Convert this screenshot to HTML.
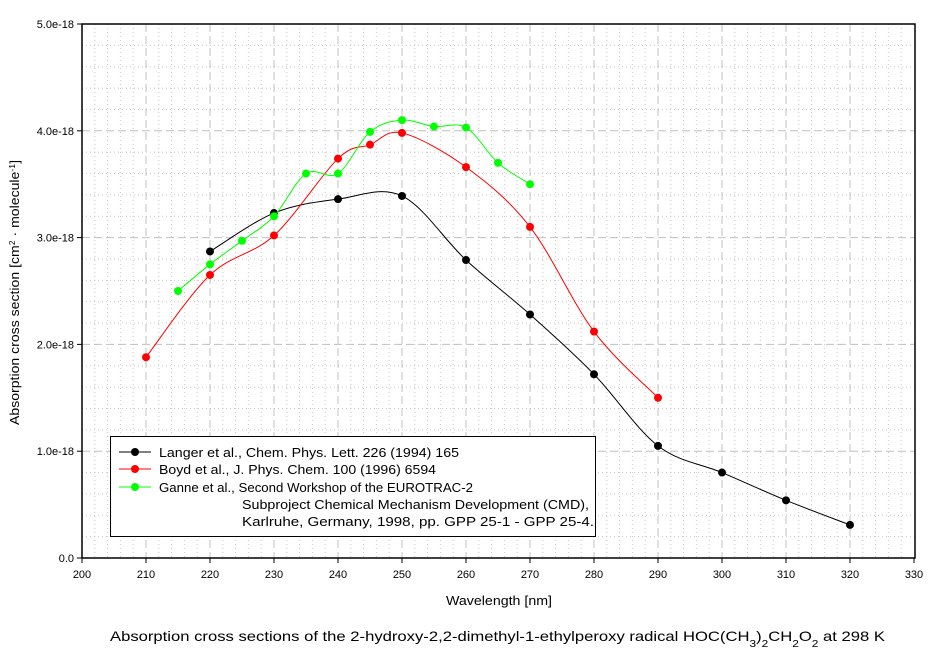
<!DOCTYPE html>
<html><head><meta charset="utf-8"><style>
html,body{margin:0;padding:0;background:#fff;}
svg{display:block;font-family:"Liberation Sans",Arial,sans-serif;}
</style></head><body>
<svg id="s" width="942" height="654" xmlns="http://www.w3.org/2000/svg">
<rect width="942" height="654" fill="#fff"/>
<g id="grid"></g>
<g id="series"></g>
<rect x="82" y="24" width="833" height="534" fill="none" stroke="#000" stroke-width="1.5"/>
<g id="ticks" font-size="11"></g>
<text x="446" y="605" font-size="13" textLength="106" lengthAdjust="spacingAndGlyphs">Wavelength [nm]</text>
<text transform="translate(19,425) rotate(-90)" font-size="13" textLength="265" lengthAdjust="spacingAndGlyphs">Absorption cross section [cm<tspan baseline-shift="super" font-size="8">2</tspan> · molecule<tspan baseline-shift="super" font-size="8">-1</tspan>]</text>
<text x="110" y="641" font-size="14" textLength="775" lengthAdjust="spacingAndGlyphs">Absorption cross sections of the 2-hydroxy-2,2-dimethyl-1-ethylperoxy radical HOC(CH<tspan baseline-shift="sub" font-size="10">3</tspan>)<tspan baseline-shift="sub" font-size="10">2</tspan>CH<tspan baseline-shift="sub" font-size="10">2</tspan>O<tspan baseline-shift="sub" font-size="10">2</tspan> at 298 K</text>
<g>
<rect x="110.5" y="436.5" width="485" height="100" fill="#fff" stroke="#000" stroke-width="1"/>
<line x1="119" y1="452" x2="151" y2="452" stroke="#000"/><circle cx="135" cy="452" r="4" fill="#000"/>
<line x1="119" y1="469" x2="151" y2="469" stroke="#f00"/><circle cx="135" cy="469" r="4" fill="#f00"/>
<line x1="119" y1="487" x2="151" y2="487" stroke="#0f0"/><circle cx="135" cy="487" r="4" fill="#0f0"/>
<g font-size="13" lengthAdjust="spacingAndGlyphs">
<text x="159" y="457" textLength="300" lengthAdjust="spacingAndGlyphs">Langer et al., Chem. Phys. Lett. 226 (1994) 165</text>
<text x="159" y="474" textLength="277" lengthAdjust="spacingAndGlyphs">Boyd et al., J. Phys. Chem. 100 (1996) 6594</text>
<text x="159" y="492" textLength="314" lengthAdjust="spacingAndGlyphs">Ganne et al., Second Workshop of the EUROTRAC-2</text>
<text x="242" y="509" textLength="347" lengthAdjust="spacingAndGlyphs">Subproject Chemical Mechanism Development (CMD),</text>
<text x="242" y="526" textLength="352" lengthAdjust="spacingAndGlyphs">Karlruhe, Germany, 1998, pp. GPP 25-1 - GPP 25-4.</text>
</g></g>
</svg>
<script>
const X=v=>82+(v-200)*6.4, Y=v=>558-v*106.8;
const ns="http://www.w3.org/2000/svg";
function el(p,t,a){const e=document.createElementNS(ns,t);for(const k in a)e.setAttribute(k,a[k]);p.appendChild(e);return e;}
const g=document.getElementById('grid'),tk=document.getElementById('ticks');
for(let w=202;w<330;w+=2){if(w%10==0)continue;el(g,'line',{x1:X(w),x2:X(w),y1:24,y2:558,stroke:'#c8c8c8','stroke-dasharray':'1,3'});}
for(let i=1;i<25;i++){if(i%5==0)continue;const y=Y(i*0.2);el(g,'line',{x1:82,x2:915,y1:y,y2:y,stroke:'#c8c8c8','stroke-dasharray':'1,3'});}
for(let w=210;w<330;w+=10){el(g,'line',{x1:X(w),x2:X(w),y1:24,y2:558,stroke:'#c0c0c0','stroke-dasharray':'8,4'});}
for(let i=1;i<5;i++){el(g,'line',{x1:82,x2:915,y1:Y(i),y2:Y(i),stroke:'#c0c0c0','stroke-dasharray':'8,4'});}
for(let w=200;w<=330;w+=10){el(tk,'line',{x1:X(w),x2:X(w),y1:558,y2:563,stroke:'#000'});el(tk,'text',{x:X(w),y:578,'text-anchor':'middle'}).textContent=w;}
for(let i=0;i<=5;i++){el(tk,'line',{x1:77,x2:82,y1:Y(i),y2:Y(i),stroke:'#000'});el(tk,'text',{x:74,y:Y(i)+4,'text-anchor':'end'}).textContent=i==0?'0.0':i+'.0e-18';}
const S=[['#000',[[220,2.87],[230,3.23],[240,3.36],[250,3.39],[260,2.79],[270,2.28],[280,1.72],[290,1.05],[300,0.80],[310,0.54],[320,0.31]]],
['#f00',[[210,1.88],[220,2.65],[230,3.02],[240,3.74],[245,3.87],[250,3.98],[260,3.66],[270,3.10],[280,2.12],[290,1.50]]],
['#0f0',[[215,2.50],[220,2.75],[225,2.97],[230,3.20],[235,3.60],[240,3.60],[245,3.99],[250,4.10],[255,4.04],[260,4.03],[265,3.70],[270,3.50]]]];
const sg=document.getElementById('series');
for(const [c,d] of S){const p=d.map(([a,b])=>[X(a),Y(b)]);let s='M'+p[0];
for(let i=0;i<p.length-1;i++){const p0=p[Math.max(0,i-1)],p1=p[i],p2=p[i+1],p3=p[Math.min(p.length-1,i+2)];
const c1=[p1[0]+(p2[0]-p0[0])/6,p1[1]+(p2[1]-p0[1])/6],c2=[p2[0]-(p3[0]-p1[0])/6,p2[1]-(p3[1]-p1[1])/6];
s+=' C'+c1+' '+c2+' '+p2;}
el(sg,'path',{d:s,fill:'none',stroke:c,'stroke-width':1});
for(const q of p)el(sg,'circle',{cx:q[0],cy:q[1],r:4,fill:c});}
</script>
</body></html>
